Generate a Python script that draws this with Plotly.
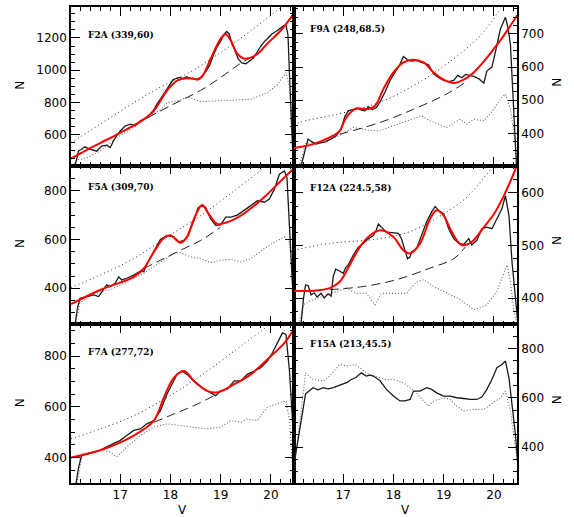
import plotly.graph_objects as go
from plotly.subplots import make_subplots

# ---- F2A (339,60) ----
f2a_v = [16.08, 16.17, 16.22, 16.30, 16.40, 16.53, 16.63, 16.73, 16.80, 16.90, 17.00, 17.10, 17.20,
         17.30, 17.40, 17.53, 17.66, 17.74, 17.82, 17.90, 17.98, 18.05, 18.12, 18.18, 18.25, 18.32,
         18.40, 18.48, 18.55, 18.62, 18.70, 18.78, 18.85, 18.92, 19.00, 19.06, 19.12, 19.17, 19.22,
         19.28, 19.35, 19.42, 19.50, 19.57, 19.65, 19.72, 19.80, 19.88, 19.95, 20.02, 20.10, 20.18,
         20.25, 20.30, 20.34, 20.38, 20.42, 20.45]
f2a_n = [380, 500, 508, 525, 510, 498, 529, 535, 520, 581, 623, 654, 665,
         655, 686, 706, 750, 795, 830, 870, 910, 940, 950, 955, 948, 960,
         950, 945, 946, 960, 990, 1030, 1090, 1140, 1180, 1220, 1240, 1225, 1170,
         1120, 1070, 1045, 1040, 1055, 1075, 1110, 1150, 1180, 1200, 1225, 1240, 1260,
         1275, 1280, 1220, 900, 500, 380]
f2a_fit_v = [16.02, 16.3, 16.6, 17.0, 17.4, 17.55, 17.67, 17.8, 17.93, 18.05, 18.15, 18.3, 18.45,
             18.55, 18.65, 18.8, 18.92, 19.0, 19.1, 19.2, 19.33, 19.47, 19.6, 19.75, 19.93, 20.2, 20.47]
f2a_fit_n = [452, 500, 548, 612, 681, 715, 748, 810, 873, 915, 938, 950, 948,
             942, 970, 1071, 1150, 1196, 1223, 1185, 1102, 1071, 1078, 1105, 1165, 1248, 1358]
f2a_bg_v = [17.55, 18.0, 18.6, 19.0, 19.34, 19.6]
f2a_bg_n = [706, 780, 875, 955, 1031, 1080]
f2a_up_v = [16.02, 16.6, 17.2, 17.8, 18.4, 19.0, 19.6, 20.2]
f2a_up_n = [550, 665, 785, 895, 990, 1110, 1245, 1390]
f2a_lo_v = [16.08, 16.15, 16.33, 16.6, 16.93, 17.27, 17.53, 17.8, 17.95, 18.2, 18.35, 18.5, 18.6,
            18.93, 19.27, 19.6, 19.93, 20.13, 20.3, 20.37, 20.43, 20.47]
f2a_lo_n = [420, 445, 455, 500, 580, 650, 700, 755, 800, 815, 835, 815, 805,
            810, 815, 820, 860, 910, 985, 900, 600, 420]

# ---- F9A (248,68.5) ----
f9a_v = [16.16, 16.22, 16.30, 16.36, 16.46, 16.55, 16.65, 16.75, 16.85, 16.95, 17.03, 17.10, 17.20,
         17.28, 17.36, 17.43, 17.50, 17.58, 17.66, 17.73, 17.83, 17.93, 18.03, 18.13, 18.20, 18.28,
         18.36, 18.45, 18.53, 18.62, 18.70, 18.80, 18.90, 19.00, 19.10, 19.20, 19.28, 19.36, 19.44,
         19.52, 19.60, 19.70, 19.80, 19.86, 19.96, 20.03, 20.13, 20.23, 20.28, 20.33, 20.39, 20.45]
f9a_n = [302, 340, 383, 376, 368, 372, 375, 383, 392, 410, 450, 468, 472,
         476, 470, 468, 480, 472, 478, 494, 524, 559, 584, 609, 632, 622,
         618, 620, 616, 612, 607, 580, 568, 560, 556, 560, 575, 568, 578,
         575, 572, 565, 552, 588, 600, 645, 715, 750, 720, 666, 493, 303]
f9a_fit_v = [16.01, 16.4, 16.73, 16.93, 17.06, 17.26, 17.46, 17.63, 17.8, 18.0, 18.2, 18.4, 18.6,
             18.8, 19.0, 19.2, 19.4, 19.6, 19.8, 20.0, 20.15, 20.3, 20.47]
f9a_fit_n = [356, 368, 388, 408, 448, 475, 473, 483, 534, 584, 614, 622, 614,
             584, 562, 552, 562, 584, 617, 655, 685, 718, 757]
f9a_bg_v = [16.93, 17.06, 17.73, 18.4, 19.06, 19.43]
f9a_bg_n = [398, 403, 433, 473, 519, 554]
f9a_up_v = [16.01, 16.3, 16.73, 17.2, 17.73, 18.4, 19.06, 19.73, 20.13]
f9a_up_n = [428, 440, 453, 470, 494, 544, 609, 695, 775]
f9a_lo_v = [16.12, 16.25, 16.5, 16.8, 17.0, 17.2, 17.5, 17.73, 17.9, 18.4, 18.56, 18.73, 19.06,
            19.33, 19.46, 19.6, 19.8, 20.0, 20.13, 20.23, 20.33, 20.4, 20.47]
f9a_lo_n = [300, 370, 372, 385, 400, 418, 410, 408, 418, 443, 453, 438, 418,
            443, 428, 443, 438, 473, 504, 519, 473, 400, 310]

# ---- F5A (309,70) ----
f5a_v = [16.10, 16.15, 16.20, 16.27, 16.33, 16.40, 16.47, 16.57, 16.67, 16.73, 16.80, 16.90, 16.97,
         17.03, 17.13, 17.27, 17.40, 17.47, 17.53, 17.67, 17.80, 17.93, 18.00, 18.07, 18.17, 18.27,
         18.33, 18.47, 18.55, 18.60, 18.70, 18.80, 18.90, 19.00, 19.10, 19.20, 19.33, 19.47, 19.60,
         19.73, 19.87, 19.97, 20.07, 20.17, 20.27, 20.32, 20.37, 20.41, 20.47]
f5a_n = [251, 320, 359, 362, 366, 370, 373, 366, 393, 414, 407, 420, 447,
         434, 441, 454, 470, 468, 500, 549, 600, 617, 614, 610, 590, 597,
         612, 678, 730, 739, 732, 685, 658, 660, 692, 692, 700, 719, 739,
         759, 753, 766, 807, 868, 881, 854, 644, 441, 251]
f5a_fit_v = [16.02, 16.6, 17.27, 17.47, 17.67, 17.87, 18.0, 18.2, 18.33, 18.47, 18.63, 18.76, 18.93,
             19.13, 19.4, 19.67, 19.93, 20.2, 20.47]
f5a_fit_n = [335, 393, 447, 481, 549, 606, 617, 587, 610, 685, 742, 705, 664,
             671, 698, 739, 786, 841, 895]
f5a_bg_v = [17.47, 17.8, 18.2, 18.6, 19.0]
f5a_bg_n = [481, 515, 556, 596, 651]
f5a_up_v = [16.02, 16.6, 17.27, 17.93, 18.6, 19.27, 19.87]
f5a_up_n = [403, 454, 522, 610, 698, 800, 895]
f5a_lo_v = [16.1, 16.2, 16.4, 16.6, 16.8, 17.13, 17.47, 17.8, 18.07, 18.2, 18.4, 18.6, 18.8,
            19.0, 19.2, 19.4, 19.6, 19.87, 20.07, 20.27, 20.37, 20.43, 20.47]
f5a_lo_n = [251, 340, 370, 386, 393, 427, 461, 508, 542, 546, 529, 522, 505,
            515, 519, 508, 522, 563, 590, 610, 590, 441, 300]

# ---- F12A (224.5,58) ----
f12a_v = [16.16, 16.21, 16.25, 16.30, 16.36, 16.42, 16.48, 16.56, 16.62, 16.70, 16.76, 16.80, 16.85,
          16.90, 17.00, 17.05, 17.10, 17.20, 17.30, 17.40, 17.50, 17.60, 17.66, 17.70, 17.76, 17.86,
          17.93, 18.00, 18.10, 18.16, 18.23, 18.28, 18.33, 18.36, 18.46, 18.56, 18.66, 18.76, 18.83,
          18.90, 19.00, 19.10, 19.20, 19.30, 19.40, 19.50, 19.56, 19.66, 19.76, 19.86, 19.96, 20.06,
          20.16, 20.23, 20.30, 20.36, 20.43, 20.48]
f12a_n = [350, 400, 425, 424, 406, 410, 402, 409, 400, 408, 404, 441, 455,
          453, 447, 458, 463, 482, 497, 504, 513, 519, 530, 541, 535, 526,
          525, 524, 523, 513, 488, 475, 478, 488, 494, 519, 545, 564, 574,
          567, 560, 532, 513, 504, 502, 513, 501, 510, 532, 535, 532, 551,
          570, 595, 557, 469, 394, 350]
f12a_fit_v = [16.01, 16.4, 16.73, 16.93, 17.13, 17.33, 17.53, 17.76, 18.0, 18.2, 18.33, 18.53, 18.73,
              18.86, 19.0, 19.16, 19.36, 19.56, 19.8, 20.0, 20.2, 20.44]
f12a_fit_n = [414, 414, 419, 431, 463, 497, 519, 529, 516, 491, 485, 504, 551,
              567, 557, 526, 501, 507, 535, 560, 595, 648]
f12a_bg_v = [16.73, 17.4, 18.06, 18.73, 19.2, 19.43]
f12a_bg_n = [416, 422, 435, 457, 475, 497]
f12a_up_v = [16.01, 16.73, 17.73, 18.4, 19.06, 19.46, 19.93]
f12a_up_n = [491, 504, 513, 529, 564, 592, 645]
f12a_lo_v = [16.12, 16.2, 16.33, 16.6, 16.8, 17.06, 17.26, 17.46, 17.63, 17.76, 18.0, 18.26, 18.46,
             18.6, 18.8, 19.06, 19.33, 19.6, 19.86, 20.06, 20.2, 20.26, 20.33, 20.4, 20.46]
f12a_lo_n = [350, 387, 394, 403, 409, 419, 409, 409, 387, 409, 409, 409, 431,
             435, 422, 409, 397, 378, 387, 413, 450, 463, 431, 375, 350]

# ---- F7A (277,72) ----
f7a_v = [16.12, 16.17, 16.23, 16.33, 16.47, 16.60, 16.73, 16.87, 17.00, 17.13, 17.27, 17.40, 17.53,
         17.67, 17.80, 17.93, 18.03, 18.13, 18.23, 18.33, 18.43, 18.53, 18.67, 18.80, 18.90, 19.00,
         19.13, 19.27, 19.40, 19.53, 19.67, 19.80, 19.93, 20.03, 20.13, 20.23, 20.30, 20.37, 20.43, 20.48]
f7a_n = [298, 360, 409, 415, 422, 429, 442, 455, 468, 487, 507, 513, 533,
         546, 585, 650, 689, 728, 741, 728, 709, 689, 670, 657, 644, 663,
         670, 702, 702, 728, 741, 754, 780, 813, 852, 891, 885, 741, 546, 350]
f7a_fit_v = [16.02, 16.6, 17.27, 17.67, 17.87, 18.07, 18.27, 18.47, 18.73, 18.93, 19.27, 19.6, 19.93,
             20.27, 20.47]
f7a_fit_n = [400, 429, 487, 546, 637, 715, 741, 702, 663, 657, 689, 728, 787, 852, 911]
f7a_bg_v = [17.67, 18.07, 18.47, 18.87, 18.93]
f7a_bg_n = [539, 572, 605, 644, 650]
f7a_up_v = [16.02, 16.6, 17.27, 17.93, 18.6, 19.27, 19.93]
f7a_up_n = [474, 513, 565, 637, 722, 820, 917]
f7a_lo_v = [16.14, 16.25, 16.6, 16.8, 16.93, 17.13, 17.4, 17.67, 17.93, 18.2, 18.47, 18.73, 19.0,
            19.2, 19.4, 19.53, 19.73, 19.93, 20.2, 20.3, 20.37, 20.43, 20.48]
f7a_lo_n = [300, 415, 429, 422, 403, 442, 487, 520, 533, 526, 520, 513, 520,
            546, 539, 552, 546, 598, 618, 624, 546, 363, 300]

# ---- F15A (213,45.5) ----
f15a_v = [16.01, 16.25, 16.40, 16.50, 16.60, 16.70, 16.80, 16.90, 17.00, 17.08, 17.16, 17.25, 17.36,
          17.46, 17.53, 17.60, 17.73, 17.86, 18.00, 18.13, 18.23, 18.33, 18.40, 18.53, 18.66, 18.76,
          18.86, 19.00, 19.13, 19.26, 19.40, 19.53, 19.66, 19.76, 19.86, 19.96, 20.06, 20.16, 20.23,
          20.30, 20.36, 20.43, 20.48]
f15a_n = [316, 616, 641, 632, 641, 636, 641, 648, 654, 662, 674, 682, 701,
          688, 692, 688, 670, 634, 607, 587, 587, 593, 627, 627, 641, 634,
          620, 607, 607, 600, 597, 593, 593, 603, 634, 674, 722, 735, 749,
          681, 573, 451, 316]
f15a_lo_v = [16.01, 16.25, 16.4, 16.6, 16.73, 16.93, 17.06, 17.23, 17.33, 17.46, 17.6, 17.73, 17.86,
             18.0, 18.2, 18.33, 18.46, 18.6, 18.7, 18.8, 19.0, 19.13, 19.26, 19.4, 19.6, 19.8,
             20.0, 20.13, 20.23, 20.33, 20.43, 20.48]
f15a_lo_n = [290, 701, 674, 668, 688, 735, 728, 735, 722, 701, 688, 681, 674,
             674, 661, 641, 620, 587, 566, 587, 600, 593, 566, 546, 553, 553,
             580, 600, 627, 546, 397, 330]

panels = [
    dict(row=1, col=1, label="F2A (339,60)", yr=[408, 1392], dt=200, mn=50, lx=0.067, ly=0.82,
         data=(f2a_v, f2a_n), fit=(f2a_fit_v, f2a_fit_n), bg=(f2a_bg_v, f2a_bg_n),
         up=(f2a_up_v, f2a_up_n), lo=(f2a_lo_v, f2a_lo_n)),
    dict(row=1, col=2, label="F9A (248,68.5)", yr=[303, 781], dt=100, mn=25, lx=0.063, ly=0.86,
         data=(f9a_v, f9a_n), fit=(f9a_fit_v, f9a_fit_n), bg=(f9a_bg_v, f9a_bg_n),
         up=(f9a_up_v, f9a_up_n), lo=(f9a_lo_v, f9a_lo_n)),
    dict(row=2, col=1, label="F5A (309,70)", yr=[252, 903], dt=200, mn=50, lx=0.067, ly=0.86,
         data=(f5a_v, f5a_n), fit=(f5a_fit_v, f5a_fit_n), bg=(f5a_bg_v, f5a_bg_n),
         up=(f5a_up_v, f5a_up_n), lo=(f5a_lo_v, f5a_lo_n)),
    dict(row=2, col=2, label="F12A (224.5,58)", yr=[350, 652], dt=100, mn=25, lx=0.063, ly=0.855,
         data=(f12a_v, f12a_n), fit=(f12a_fit_v, f12a_fit_n), bg=(f12a_bg_v, f12a_bg_n),
         up=(f12a_up_v, f12a_up_n), lo=(f12a_lo_v, f12a_lo_n)),
    dict(row=3, col=1, label="F7A (277,72)", yr=[300, 925], dt=200, mn=50, lx=0.067, ly=0.82,
         data=(f7a_v, f7a_n), fit=(f7a_fit_v, f7a_fit_n), bg=(f7a_bg_v, f7a_bg_n),
         up=(f7a_up_v, f7a_up_n), lo=(f7a_lo_v, f7a_lo_n)),
    dict(row=3, col=2, label="F15A (213,45.5)", yr=[254, 898], dt=200, mn=50, lx=0.063, ly=0.874,
         data=(f15a_v, f15a_n), fit=None, bg=None, up=None, lo=(f15a_lo_v, f15a_lo_n)),
]

fig = make_subplots(rows=3, cols=2, horizontal_spacing=0, vertical_spacing=0)

tick_font = dict(family="DejaVu Sans", size=12, color="black")

for i, p in enumerate(panels):
    r, c = p["row"], p["col"]
    if p["up"]:
        fig.add_trace(go.Scatter(x=p["up"][0], y=p["up"][1], mode="lines", line_shape="spline",
                                 line=dict(color="#222", width=1, dash="1px,3px")), row=r, col=c)
    fig.add_trace(go.Scatter(x=p["lo"][0], y=p["lo"][1], mode="lines",
                             line=dict(color="#666", width=1.1, dash="1px,2px")), row=r, col=c)
    if p["bg"]:
        fig.add_trace(go.Scatter(x=p["bg"][0], y=p["bg"][1], mode="lines", line_shape="spline",
                                 line=dict(color="#222", width=1, dash="9px,5px")), row=r, col=c)
    fig.add_trace(go.Scatter(x=p["data"][0], y=p["data"][1], mode="lines",
                             line=dict(color="#1a1a1a", width=1.3)), row=r, col=c)
    if p["fit"]:
        fig.add_trace(go.Scatter(x=p["fit"][0], y=p["fit"][1], mode="lines", line_shape="spline",
                                 line=dict(color="#ff0000", width=2)), row=r, col=c)

    fig.update_xaxes(range=[16.02, 20.46], tickvals=[17, 18, 19, 20], ticks="inside", ticklen=9,
                     tickwidth=1, tickcolor="black", mirror="allticks", showline=True, linewidth=1.5,
                     linecolor="black", showgrid=False, zeroline=False, showticklabels=(r == 3),
                     tickfont=tick_font,
                     minor=dict(dtick=0.2, tick0=16, ticks="inside", ticklen=4, tickcolor="black"),
                     row=r, col=c)
    fig.update_yaxes(range=p["yr"], dtick=p["dt"], tick0=0, ticks="inside", ticklen=9, tickwidth=1,
                     tickcolor="black", mirror="allticks", showline=True, linewidth=1.5,
                     linecolor="black", showgrid=False, zeroline=False, tickfont=tick_font,
                     side="left" if c == 1 else "right",
                     minor=dict(dtick=p["mn"], tick0=0, ticks="inside", ticklen=4, tickcolor="black"),
                     row=r, col=c)

    xd = "x domain" if i == 0 else "x%d domain" % (i + 1)
    yd = "y domain" if i == 0 else "y%d domain" % (i + 1)
    fig.add_annotation(x=p["lx"], y=p["ly"], xref=xd, yref=yd, text="<b>%s</b>" % p["label"],
                       showarrow=False, xanchor="left", yanchor="middle",
                       font=dict(family="DejaVu Serif", size=9, color="black"))

# axis titles (positions given in pixels, converted below)
title_font = dict(family="DejaVu Sans", size=12, color="black")
for yy in [84, 243, 403]:
    fig.add_annotation(x=20, y=yy, xref="paper", yref="paper", text="N", textangle=-90,
                       showarrow=False, xanchor="center", yanchor="middle", font=title_font)
    fig.add_annotation(x=557, y=yy - 3, xref="paper", yref="paper", text="N", textangle=-90,
                       showarrow=False, xanchor="center", yanchor="middle", font=title_font)
for xx in [182, 405]:
    fig.add_annotation(x=xx, y=510, xref="paper", yref="paper", text="V",
                       showarrow=False, xanchor="center", yanchor="middle", font=title_font)

W, H = 574, 517
L, R, T, B = 71, 57, 5, 34
for a in fig.layout.annotations:
    if a.xref == "paper":
        a.x = (a.x - L) / (W - L - R)
        a.y = 1 - (a.y - T) / (H - T - B)

fig.update_layout(width=W, height=H, margin=dict(l=L, r=R, t=T, b=B), showlegend=False,
                  plot_bgcolor="white", paper_bgcolor="white")

# drop the page's default body margin so the figure sits at the window's corner
fig.write_html("out.html", config={"displayModeBar": False},
               post_script="document.body.style.margin='0';")
